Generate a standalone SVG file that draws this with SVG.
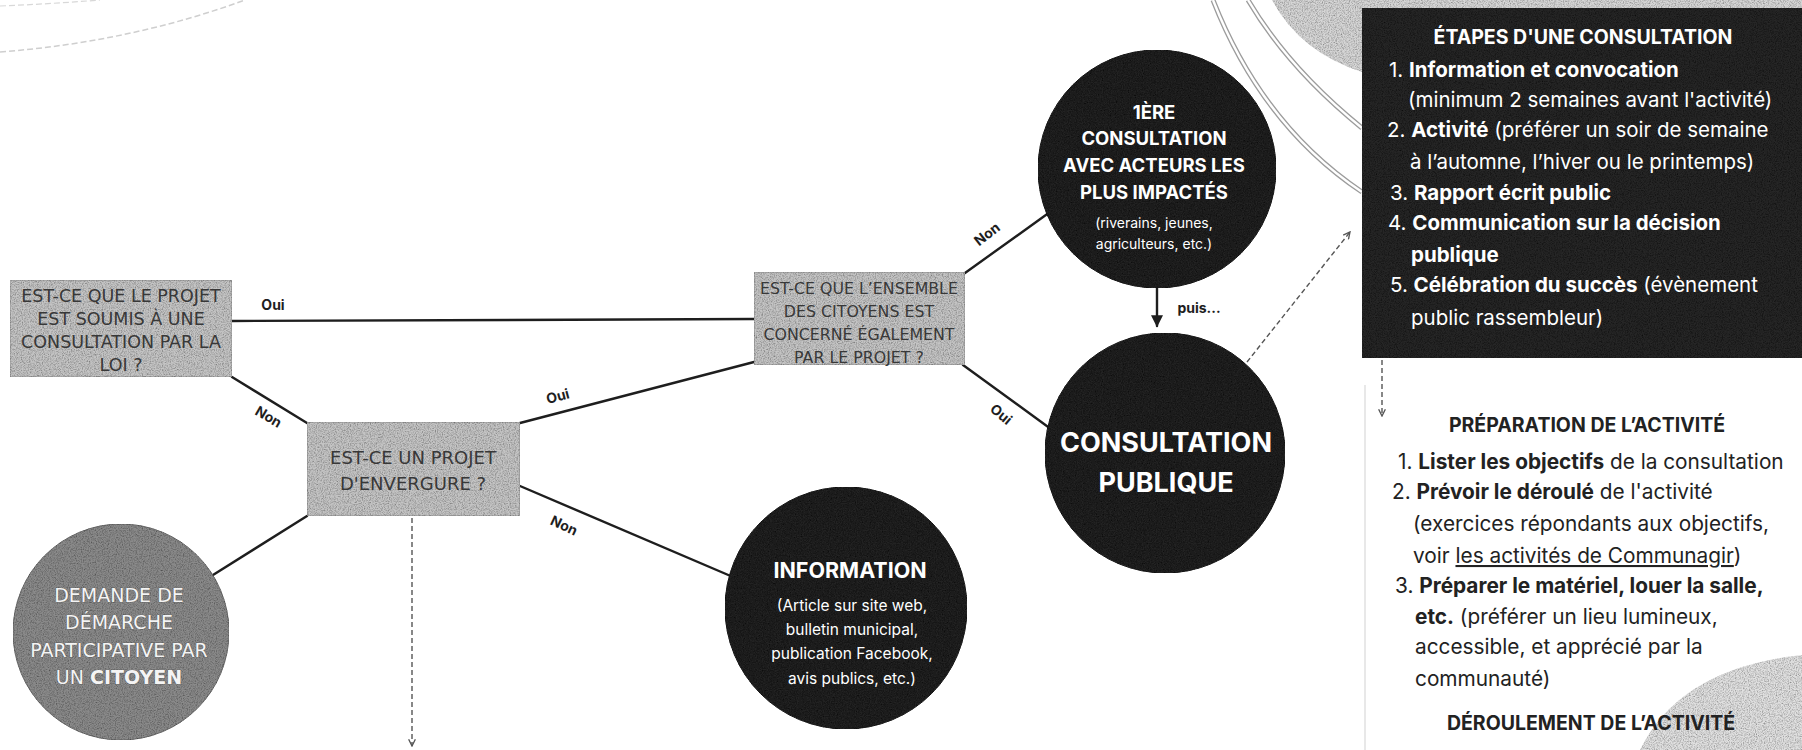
<svg xmlns="http://www.w3.org/2000/svg" width="1802" height="750" viewBox="0 0 1802 750">
<style>
  .bg { fill: #ffffff; }
  .box { fill: #c4c4c4; stroke: #999999; stroke-width: 1.2; }
  .boxt { font-family: "DejaVu Sans", "Noto Sans", sans-serif; fill: #383838; text-anchor: middle; }
  .dark { fill: #242424; stroke: #1a1a1a; stroke-width: 1; }
  .grey { fill: #8a8a8a; stroke: #6a6a6a; stroke-width: 1; }
  .wt { font-family: Inter, "Noto Sans", sans-serif; fill: #ffffff; text-anchor: middle; }
  .wb { font-weight: 700; }
  .demt { font-family: "DejaVu Sans", "Noto Sans", sans-serif; fill: #f4f4f4; stroke: #555555; stroke-width: 0.7; paint-order: stroke; text-anchor: middle; font-size: 19px; }
  .conn { stroke: #1e1e1e; stroke-width: 2.4; fill: none; stroke-linecap: round; }
  .dash { stroke: #555555; stroke-width: 1.4; fill: none; stroke-dasharray: 5 3; }
  .lbl { font-family: Inter, "Noto Sans", sans-serif; font-weight: 700; font-size: 14px; fill: #1e1e1e; text-anchor: middle; }
  .pt { font-family: Inter, "Noto Sans", sans-serif; font-size: 20.5px; fill: #ffffff; }
  .ptt { font-family: Inter, "Noto Sans", sans-serif; font-size: 19.5px; font-weight: 700; fill: #ffffff; text-anchor: middle; }
  .rt { font-family: Inter, "Noto Sans", sans-serif; font-size: 20.8px; fill: #222222; }
  .rtt { font-family: Inter, "Noto Sans", sans-serif; font-size: 19.5px; font-weight: 700; fill: #222222; text-anchor: middle; }
  .b { font-weight: 700; }
  .deco { fill: none; stroke: #9c9c9c; stroke-width: 5; }
  .decoin { fill: none; stroke: #ffffff; stroke-width: 2.4; }
</style>
<defs>
  <filter id="grain" x="0" y="0" width="100%" height="100%">
    <feTurbulence type="fractalNoise" baseFrequency="0.85" numOctaves="2" seed="4" result="n"/>
    <feColorMatrix in="n" type="matrix" values="0 0 0 0 0  0 0 0 0 0  0 0 0 0 0  1.3 0 0 0 -0.5" result="a"/>
    <feComposite in="a" in2="SourceGraphic" operator="in" result="m"/>
    <feMerge><feMergeNode in="SourceGraphic"/><feMergeNode in="m"/></feMerge>
  </filter>
  <marker id="filled" viewBox="0 0 10 10" refX="9" refY="5" markerWidth="5" markerHeight="5" orient="auto" markerUnits="strokeWidth">
    <path d="M0,0 L10,5 L0,10 Z" fill="#1e1e1e"/>
  </marker>
  <marker id="chev" viewBox="0 0 10 10" refX="9" refY="5" markerWidth="6" markerHeight="6" orient="auto" markerUnits="strokeWidth">
    <path d="M1,1 L9,5 L1,9" fill="none" stroke="#555555" stroke-width="1.6"/>
  </marker>
</defs>

<rect class="bg" x="0" y="0" width="1802" height="750"/>

<g id="decor">
  <path d="M0,52 Q130,42 245,0" fill="none" stroke="#cfcfcf" stroke-width="1.5" stroke-dasharray="6 3"/>
  <path d="M0,6 Q50,4 100,0" fill="none" stroke="#d8d8d8" stroke-width="1.2" stroke-dasharray="6 3"/>
  <path d="M1272,0 Q1300,52 1362,72 L1362,0 Z" fill="#d6d6d6" filter="url(#grain)"/>
  <rect x="1362" y="0" width="440" height="10" fill="#d6d6d6" filter="url(#grain)"/>
  <path class="deco" d="M1213,0 Q1262,125 1362,192"/>
  <path class="decoin" d="M1213,0 Q1262,125 1362,192"/>
  <path class="deco" d="M1248,0 Q1288,68 1362,128"/>
  <path class="decoin" d="M1248,0 Q1288,68 1362,128"/>
  <path d="M1640,750 Q1680,668 1802,655 L1802,750 Z" fill="#e0e0e0" filter="url(#grain)"/>
  <line x1="1365" y1="385" x2="1365" y2="750" stroke="#e0e0e0" stroke-width="1.5"/>
</g>

<g id="connectors">
  <path class="conn" d="M232,321 L754,319"/>
  <path class="conn" d="M232,377 L307,423"/>
  <path class="conn" d="M520,423 L754,362"/>
  <path class="conn" d="M520,486 L740,580"/>
  <path class="conn" d="M307,516 L205,580"/>
  <path class="conn" d="M965,273 L1050,212"/>
  <path class="conn" d="M963,365 L1055,432"/>
  <path class="conn" d="M1157,288 L1157,326" marker-end="url(#filled)"/>
  <path class="dash" d="M1247,362 L1350,232" marker-end="url(#chev)"/>
  <path class="dash" d="M412,518 L412,746" marker-end="url(#chev)"/>
  <path class="dash" d="M1382,360 L1382,416" marker-end="url(#chev)"/>
  <text class="lbl" x="273" y="310">Oui</text>
  <text class="lbl" transform="translate(266,421) rotate(30)">Non</text>
  <text class="lbl" transform="translate(559,401) rotate(-15)">Oui</text>
  <text class="lbl" transform="translate(562,530) rotate(25)">Non</text>
  <text class="lbl" transform="translate(990,238) rotate(-38)">Non</text>
  <text class="lbl" transform="translate(998,418) rotate(40)">Oui</text>
  <text class="lbl" font-size="15" x="1199" y="313">puis...</text>
</g>

<g id="node-loi">
  <rect class="box" x="10" y="280" width="222" height="97" filter="url(#grain)"/>
  <text class="boxt" font-size="17.5" x="121" y="302">EST-CE QUE LE PROJET</text>
  <text class="boxt" font-size="17.5" x="121" y="325">EST SOUMIS À UNE</text>
  <text class="boxt" font-size="17.5" x="121" y="348">CONSULTATION PAR LA</text>
  <text class="boxt" font-size="17.5" x="121" y="371">LOI ?</text>
</g>

<g id="node-envergure">
  <rect class="box" x="307" y="422" width="213" height="94" filter="url(#grain)"/>
  <text class="boxt" font-size="18" x="413" y="464">EST-CE UN PROJET</text>
  <text class="boxt" font-size="18" x="413" y="490">D'ENVERGURE ?</text>
</g>

<g id="node-ensemble">
  <rect class="box" x="754" y="272" width="211" height="93" filter="url(#grain)"/>
  <text class="boxt" font-size="15.8" x="859" y="294">EST-CE QUE L’ENSEMBLE</text>
  <text class="boxt" font-size="15.8" x="859" y="317">DES CITOYENS EST</text>
  <text class="boxt" font-size="15.8" x="859" y="340">CONCERNÉ ÉGALEMENT</text>
  <text class="boxt" font-size="15.8" x="859" y="363">PAR LE  PROJET ?</text>
</g>

<g id="node-demande">
  <circle class="grey" cx="121" cy="632" r="108" filter="url(#grain)"/>
  <text class="demt" x="119" y="602">DEMANDE DE</text>
  <text class="demt" x="119" y="629">DÉMARCHE</text>
  <text class="demt" x="119" y="657">PARTICIPATIVE PAR</text>
  <text class="demt" x="119" y="684">UN <tspan class="b">CITOYEN</tspan></text>
</g>

<g id="node-information">
  <circle class="dark" cx="846" cy="608" r="121" filter="url(#grain)"/>
  <text class="wt wb" font-size="21.5" x="850" y="578">INFORMATION</text>
  <text class="wt" font-size="15.5" x="852" y="611">(Article sur site web,</text>
  <text class="wt" font-size="15.5" x="852" y="635">bulletin municipal,</text>
  <text class="wt" font-size="15.5" x="852" y="659">publication Facebook,</text>
  <text class="wt" font-size="15.5" x="852" y="684">avis publics, etc.)</text>
</g>

<g id="node-premiere">
  <circle class="dark" cx="1157" cy="169" r="119" filter="url(#grain)"/>
  <text class="wt wb" font-size="18.5" x="1154" y="119">1ÈRE</text>
  <text class="wt wb" font-size="18.5" x="1154" y="145">CONSULTATION</text>
  <text class="wt wb" font-size="18.5" x="1154" y="172">AVEC ACTEURS LES</text>
  <text class="wt wb" font-size="18.5" x="1154" y="199">PLUS IMPACTÉS</text>
  <text class="wt" font-size="14" x="1154" y="228">(riverains, jeunes,</text>
  <text class="wt" font-size="14" x="1154" y="249">agriculteurs, etc.)</text>
</g>

<g id="node-publique">
  <circle class="dark" cx="1165" cy="453" r="120" filter="url(#grain)"/>
  <text class="wt wb" font-size="27" x="1166" y="452">CONSULTATION</text>
  <text class="wt wb" font-size="27" x="1166" y="492">PUBLIQUE</text>
</g>

<g id="node-etapes">
  <rect x="1362" y="8" width="440" height="350" fill="#262626" filter="url(#grain)"/>
  <text class="ptt" x="1583" y="44">ÉTAPES D'UNE CONSULTATION</text>
  <text class="pt" x="1389" y="77">1. <tspan class="b">Information et convocation</tspan></text>
  <text class="pt" x="1408" y="107">(minimum 2 semaines avant l'activité)</text>
  <text class="pt" x="1387" y="137">2. <tspan class="b">Activité</tspan> (préférer un soir de semaine</text>
  <text class="pt" x="1410" y="169">à l’automne, l’hiver ou le printemps)</text>
  <text class="pt" x="1390" y="200">3. <tspan class="b">Rapport écrit public</tspan></text>
  <text class="pt" x="1388" y="230">4. <tspan class="b">Communication sur la décision</tspan></text>
  <text class="pt b" x="1411" y="262">publique</text>
  <text class="pt" x="1390" y="292">5. <tspan class="b">Célébration du succès</tspan> (évènement</text>
  <text class="pt" x="1411" y="325">public rassembleur)</text>
</g>

<g id="node-preparation">
  <text class="rtt" x="1587" y="432">PRÉPARATION DE L’ACTIVITÉ</text>
  <text class="rt" x="1398" y="469">1. <tspan class="b">Lister les objectifs</tspan> de la consultation</text>
  <text class="rt" x="1392" y="499">2. <tspan class="b">Prévoir le déroulé</tspan> de l'activité</text>
  <text class="rt" x="1413" y="531">(exercices répondants aux objectifs,</text>
  <text class="rt" x="1413" y="563">voir <tspan style="text-decoration: underline">les activités de Communagir</tspan>)</text>
  <text class="rt" x="1395" y="593">3. <tspan class="b">Préparer le matériel, louer la salle,</tspan></text>
  <text class="rt" x="1415" y="624"><tspan class="b">etc.</tspan> (préférer un lieu lumineux,</text>
  <text class="rt" x="1415" y="654">accessible, et apprécié par la</text>
  <text class="rt" x="1415" y="686">communauté)</text>
  <text class="rtt" x="1591" y="730">DÉROULEMENT DE L’ACTIVITÉ</text>
</g>
</svg>
